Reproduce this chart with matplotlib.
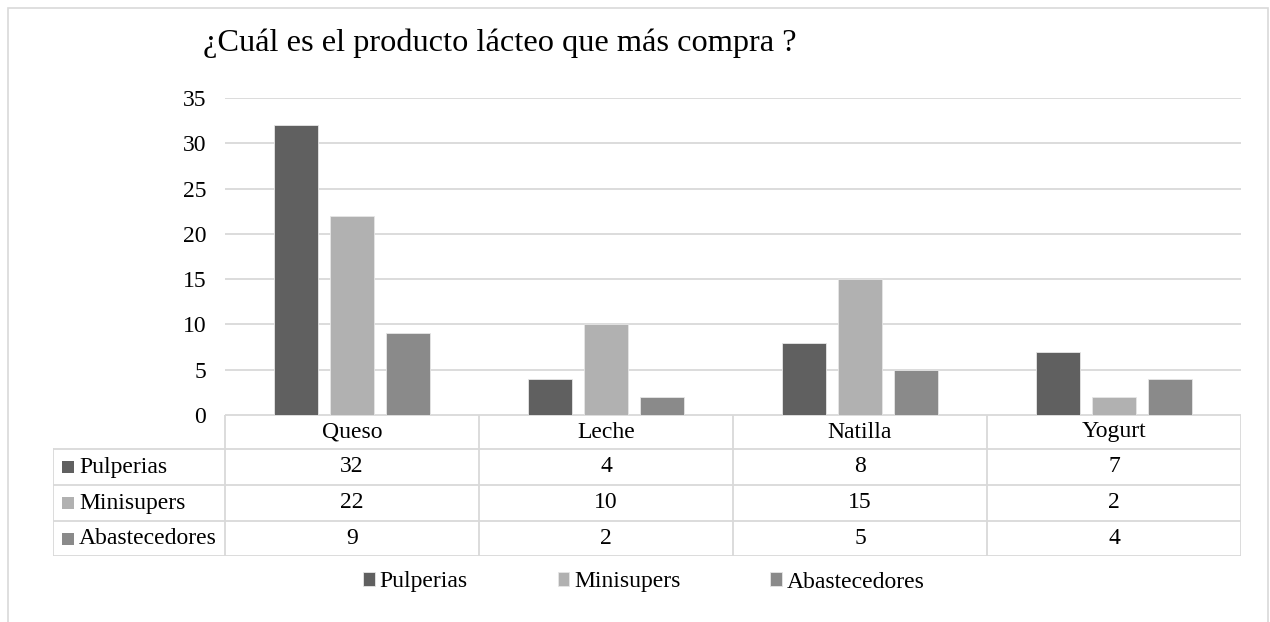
import numpy as np
import matplotlib
matplotlib.use('Agg')
import matplotlib.pyplot as plt
from matplotlib.patches import Rectangle

categories = ['Queso', 'Leche', 'Natilla', 'Yogurt']
series = ['Pulperias', 'Minisupers', 'Abastecedores']
pulperias = [32, 4, 8, 7]
minisupers = [22, 10, 15, 2]
abastecedores = [9, 2, 5, 4]
values = [pulperias, minisupers, abastecedores]
colors = ['#606060', '#b1b1b1', '#8a8a8a']
yticks = [0, 5, 10, 15, 20, 25, 30, 35]

plt.rcParams['font.family'] = ['Liberation Serif', 'DejaVu Serif']
FS = 17
W, H = 1270, 622
fig = plt.figure(figsize=(W / 100, H / 100), dpi=100)

# outer chart border (light grey, open at the bottom like the crop)
fig.patches.append(Rectangle((8 / W, -0.05), 1260 / W, 1.05 - 8 / H,
                             transform=fig.transFigure, fill=False,
                             edgecolor='#d9d9d9', linewidth=1.2))

fig.text(203 / W, 1 - 43 / H, '¿Cuál es el producto lácteo que más compra ?',
         fontsize=23.3, ha='left', va='center')

# bar area
x0, x1 = 225, 1241
ax = fig.add_axes([x0 / W, 1 - 415 / H, (x1 - x0) / W, (415 - 98) / H])
x = np.arange(len(categories))
bw, off = 44 / 254, 56 / 254
for i, (name, vals, c) in enumerate(zip(series, values, colors)):
    ax.bar(x + (i - 1) * off, vals, width=bw, color=c, label=name,
           edgecolor='#e6e6e6', linewidth=0.6, zorder=3)
ax.set_xlim(-0.5, len(categories) - 0.5)
ax.set_ylim(0, 35)
ax.set_yticks(yticks)
ax.yaxis.grid(True, color='#d9d9d9', linewidth=1.3, zorder=0)
ax.tick_params(axis='y', length=0, pad=13.5, labelsize=FS)
ax.set_xticks([])
for s in ax.spines.values():
    s.set_visible(False)

# data table below the bars (x in category units, y in pixels)
tl = 53
unit = 254
lab_w = (x0 - tl) / unit
tax = fig.add_axes([tl / W, 1 - 556 / H, (x1 - tl) / W, (556 - 415) / H])
tax.set_xlim(-0.5 - lab_w, len(categories) - 0.5)
row_edges = [415, 449, 485, 521, 556]
tax.set_ylim(556, 415)
tax.axis('off')
gc = '#d9d9d9'
lw = 1.3
tax.plot([-0.5, len(categories) - 0.5], [row_edges[0]] * 2, color=gc, lw=lw)
for yy in row_edges[1:]:
    tax.plot([-0.5 - lab_w, len(categories) - 0.5], [yy, yy], color=gc, lw=lw)
tax.plot([-0.5 - lab_w] * 2, [row_edges[1], row_edges[-1]], color=gc, lw=lw)
for k in range(len(categories) + 1):
    tax.plot([k - 0.5] * 2, [row_edges[0], row_edges[-1]], color=gc, lw=lw)
for j, cat in enumerate(categories):
    tax.text(j, (row_edges[0] + row_edges[1]) / 2, cat, ha='center',
             va='center', fontsize=FS)
for i, (name, vals, c) in enumerate(zip(series, values, colors)):
    yc = (row_edges[i + 1] + row_edges[i + 2]) / 2
    tax.add_patch(Rectangle((-0.5 - lab_w + 9 / unit, yc - 6), 12 / unit, 12,
                            facecolor=c, edgecolor='none'))
    tax.text(-0.5 - lab_w + 26 / unit, yc, name, ha='left', va='center',
             fontsize=FS)
    for j, v in enumerate(vals):
        tax.text(j, yc, str(v), ha='center', va='center', fontsize=FS)

handles, labels = ax.get_legend_handles_labels()
fig.legend(handles, labels, loc='center', bbox_to_anchor=(644 / W, 1 - 582 / H),
           ncol=3, frameon=False, fontsize=FS, handlelength=0.5,
           handleheight=0.5, handletextpad=0.2, columnspacing=3.8,
           borderaxespad=0, borderpad=0)

fig.savefig('out.png', dpi=100)
